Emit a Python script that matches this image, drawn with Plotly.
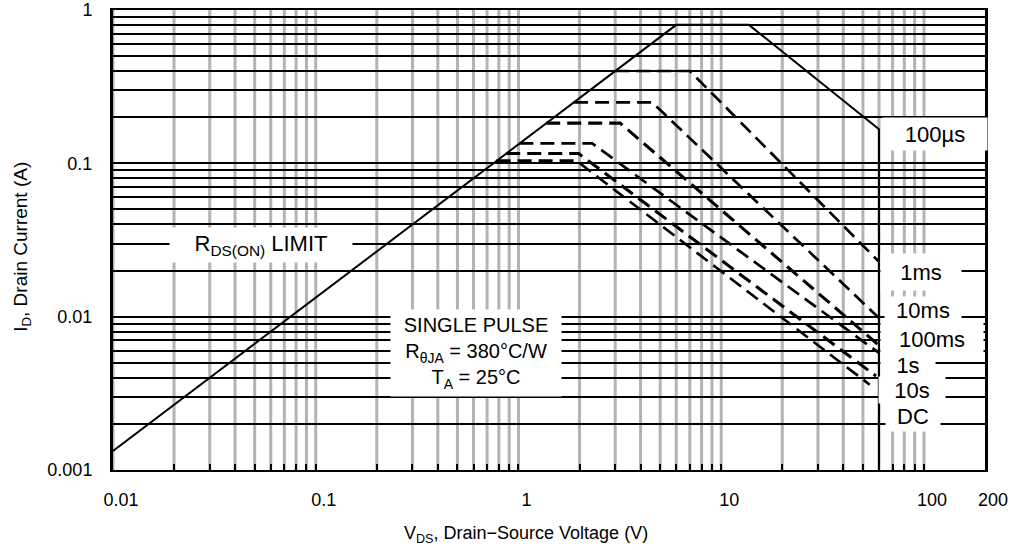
import math
import plotly.graph_objects as go

# ---------------- data ----------------
# R_DS(on) limit + 100 us boundary (solid)
soa_100us_v = [0.01, 6.0, 13.7, 60.0, 60.0]
soa_100us_i = [0.00133, 0.80, 0.80, 0.167, 0.001]

# pulse-width boundaries (dashed)
soa_1ms_v = [3.0, 7.0, 60.0]
soa_1ms_i = [0.40, 0.40, 0.0228]
soa_10ms_v = [1.88, 4.56, 60.0]
soa_10ms_i = [0.25, 0.25, 0.0098]
soa_100ms_v = [1.37, 3.17, 60.0]
soa_100ms_i = [0.183, 0.183, 0.0065]
soa_1s_v = [1.01, 2.31, 60.0]
soa_1s_i = [0.135, 0.135, 0.0058]
soa_10s_v = [0.87, 1.98, 58.0]
soa_10s_i = [0.116, 0.116, 0.0041]
soa_dc_v = [0.78, 1.93, 54.0]
soa_dc_i = [0.104, 0.104, 0.0036]

x_tick_labels = ["0.01", "0.1", "1", "10", "100", "200"]
x_tick_values = [0.01, 0.1, 1, 10, 100, 200]
y_tick_labels = ["0.001", "0.01", "0.1", "1"]
y_tick_values = [0.001, 0.01, 0.1, 1]

curve_labels = ["100\u00b5s", "1ms", "10ms", "100ms", "1s", "10s", "DC"]

# ---------------- grid values (1..9 per decade) ----------------
x_grid = sorted({round(m * 10 ** k, 6) for k in range(-2, 2) for m in range(1, 10)} | {100.0})
y_grid = sorted({round(m * 10 ** k, 6) for k in range(-3, 0) for m in range(1, 10)} | {1.0})

x_tickvals = x_grid + [200.0]
x_ticktext = []
for v in x_tickvals:
    lab = ""
    for tv, tt in zip(x_tick_values, x_tick_labels):
        if abs(v - tv) < 1e-9:
            lab = tt
    x_ticktext.append(lab)
y_ticktext = []
for v in y_grid:
    lab = ""
    for tv, tt in zip(y_tick_values, y_tick_labels):
        if abs(v - tv) < 1e-9:
            lab = tt
    y_ticktext.append(lab)

FONT = "Liberation Sans, Arial, Helvetica, sans-serif"

fig = go.Figure()

fig.add_trace(go.Scatter(x=soa_100us_v, y=soa_100us_i, mode="lines",
                         line=dict(color="black", width=2), hoverinfo="skip"))

dashed = [
    (soa_1ms_v, soa_1ms_i, 2.7),
    (soa_10ms_v, soa_10ms_i, 2.7),
    (soa_100ms_v, soa_100ms_i, 3.1),
    (soa_1s_v, soa_1s_i, 2.7),
    (soa_10s_v, soa_10s_i, 3.1),
    (soa_dc_v, soa_dc_i, 2.7),
]
for v, i, w in dashed:
    fig.add_trace(go.Scatter(x=v, y=i, mode="lines",
                             line=dict(color="black", width=w, dash="14px,7px"),
                             hoverinfo="skip"))

# vertical grey grid lines drawn above the black horizontal grid (as in the reference)
shapes = []
for gx in x_grid:
    shapes.append(dict(type="line", xref="x", yref="paper", x0=gx, x1=gx, y0=0, y1=1,
                       line=dict(color="#b3b3b3", width=3), layer="between"))

annotations = []
# label boxes (positions in log10 axis units), width/height in px
label_pos = [
    (2.052, -0.808, 104, 32),
    (1.986, -1.708, 80, 36),
    (1.996, -1.963, 76, 27),
    (2.040, -2.1455, 102, 32),
    (1.922, -2.315, 54, 26),
    (1.942, -2.478, 66, 26),
    (1.947, -2.648, 54, 30),
]
for text, (lx, ly, w, h) in zip(curve_labels, label_pos):
    annotations.append(dict(x=lx, y=ly, xref="x", yref="y", text=text, showarrow=False,
                            font=dict(family=FONT, size=22, color="black"),
                            bgcolor="white", width=w, height=h, borderpad=0))

annotations.append(dict(x=-1.270, y=-1.532, xref="x", yref="y",
                        text="R<sub>DS(ON)</sub> LIMIT", showarrow=False,
                        font=dict(family=FONT, size=22, color="black"),
                        bgcolor="white", width=182, height=34, borderpad=0))

annotations.append(dict(x=-0.212, y=-2.237, xref="x", yref="y",
                        text="SINGLE PULSE<br>R<sub>\u03b8JA</sub> = 380\u00b0C/W<br>T<sub>A</sub> = 25\u00b0C",
                        showarrow=False, align="center",
                        font=dict(family=FONT, size=20, color="black"),
                        bgcolor="white", width=170, height=86, borderpad=0))

# axis titles
annotations.append(dict(x=(526 - 113) / 872, y=-0.141, xref="paper", yref="paper",
                        xanchor="center", yanchor="middle",
                        text="V<sub>DS</sub>, Drain\u2212Source Voltage (V)", showarrow=False,
                        font=dict(family=FONT, size=18, color="black")))
annotations.append(dict(x=-0.1044, y=0.485, xref="paper", yref="paper", textangle=-90,
                        xanchor="center", yanchor="middle",
                        text="I<sub>D</sub>, Drain Current (A)", showarrow=False,
                        font=dict(family=FONT, size=19, color="black")))

fig.update_layout(
    width=1010, height=550,
    margin=dict(l=113, r=25, t=10, b=80, autoexpand=False),
    paper_bgcolor="white", plot_bgcolor="white",
    showlegend=False,
    annotations=annotations,
    shapes=shapes,
    xaxis=dict(type="log", range=[-2, math.log10(200)], automargin=False,
               tickmode="array", tickvals=x_tickvals, ticktext=x_ticktext,
               showgrid=False,
               ticks="inside", ticklen=6, tickwidth=2, tickcolor="black",
               showline=True, linecolor="black", linewidth=2, mirror=True,
               tickfont=dict(family=FONT, size=18, color="black"),
               ticklabelshift=8, ticklabelstandoff=12, zeroline=False),
    yaxis=dict(type="log", range=[-3, 0], automargin=False,
               tickmode="array", tickvals=y_grid, ticktext=y_ticktext,
               showgrid=True, gridcolor="black", gridwidth=2,
               ticks="", showline=True, linecolor="black", linewidth=3, mirror=True,
               tickfont=dict(family=FONT, size=18, color="black"),
               ticklabelstandoff=14, zeroline=False),
)

fig.write_html("out.html")
